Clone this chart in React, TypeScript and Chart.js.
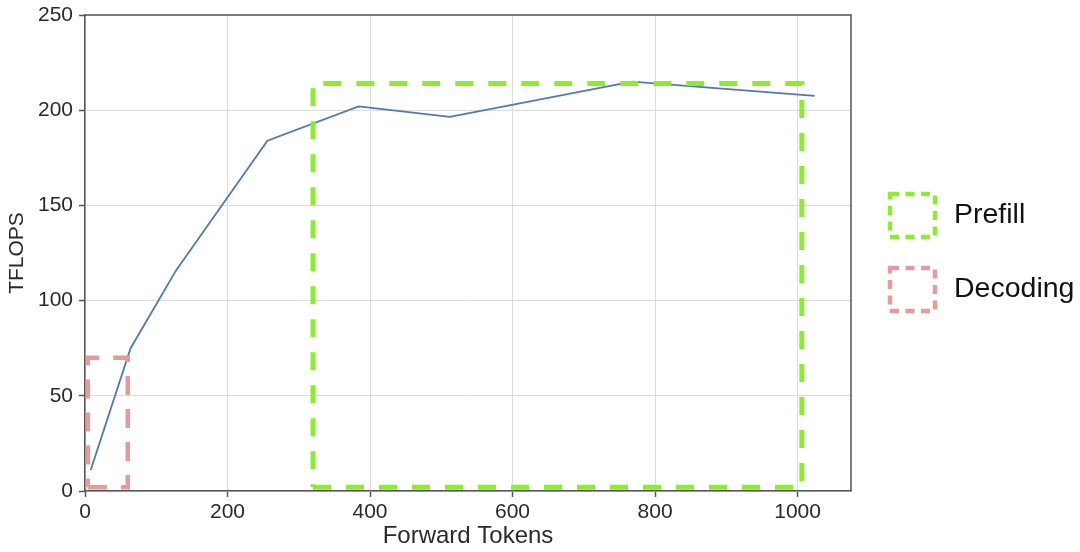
import React, { useEffect, useRef } from 'react';
import { Chart, registerables } from 'chart.js';

Chart.register(...registerables);

// ---- data ----
const forwardTokens = [8, 64, 128, 256, 384, 512, 768, 1024];
const tflops = [11, 75, 116, 184, 202, 196.5, 215, 207.5];

const prefillBoxX = [320, 1006, 1006, 320, 320];
const prefillBoxY = [2, 2, 214, 214, 2];
const decodingBoxX = [4, 60, 60, 4, 4];
const decodingBoxY = [2, 2, 70, 70, 2];

const xTicks = [0, 200, 400, 600, 800, 1000];
const yTicks = [0, 50, 100, 150, 200, 250];
const legendLabels = ['Prefill', 'Decoding'];

const FONT = "'Liberation Sans', Arial, Helvetica, sans-serif";
const GREEN = '#8aee2c';
const PINK = '#e89a9a';
const AXIS = '#555555';
const TEXT = '#2a2a2a';

const framePlugin = {
  id: 'frame',
  afterDraw(chart: any) {
    const { ctx, chartArea } = chart;
    ctx.save();
    ctx.strokeStyle = AXIS;
    ctx.lineWidth = 1.5;
    ctx.beginPath();
    ctx.moveTo(chartArea.left, chartArea.top);
    ctx.lineTo(chartArea.right, chartArea.top);
    ctx.lineTo(chartArea.right, chartArea.bottom);
    ctx.stroke();
    ctx.restore();
  },
};

const boxLegendPlugin = {
  id: 'boxLegend',
  afterDraw(chart: any) {
    const { ctx, chartArea } = chart;
    const items = chart.data.datasets.filter((d: any) => d.isBox);
    const bx = chartArea.right + 39;
    const bw = 45;
    const bh = 43;
    let by = chartArea.top + 179;
    ctx.save();
    items.forEach((d: any) => {
      ctx.strokeStyle = d.borderColor;
      ctx.lineWidth = 4.5;
      ctx.setLineDash([9, 6.5]);
      ctx.strokeRect(bx, by, bw, bh);
      ctx.setLineDash([]);
      ctx.fillStyle = '#111111';
      ctx.font = `28.5px ${FONT}`;
      ctx.textBaseline = 'middle';
      ctx.textAlign = 'left';
      ctx.fillText(d.label, bx + bw + 19, by + bh / 2);
      by += 74;
    });
    ctx.restore();
  },
};

export default function App() {
  const ref = useRef<HTMLCanvasElement | null>(null);

  useEffect(() => {
    if (!ref.current) return;
    const toPts = (xs: number[], ys: number[]) => xs.map((x, i) => ({ x, y: ys[i] }));
    const chart = new Chart(ref.current, {
      type: 'line',
      data: {
        datasets: [
          {
            label: legendLabels[0],
            isBox: true,
            data: toPts(prefillBoxX, prefillBoxY),
            borderColor: GREEN,
            borderWidth: 5,
            borderDash: [18, 15],
            borderCapStyle: 'butt',
            borderJoinStyle: 'miter',
            pointRadius: 0,
            fill: false,
            tension: 0,
          } as any,
          {
            label: legendLabels[1],
            isBox: true,
            data: toPts(decodingBoxX, decodingBoxY),
            borderColor: PINK,
            borderWidth: 4.5,
            borderDash: [19, 14],
            borderCapStyle: 'butt',
            borderJoinStyle: 'miter',
            pointRadius: 0,
            fill: false,
            tension: 0,
          } as any,
          {
            label: 'TFLOPS',
            data: toPts(forwardTokens, tflops),
            borderColor: '#5277b5',
            borderWidth: 1.8,
            pointRadius: 0,
            fill: false,
            tension: 0,
          },
        ],
      },
      options: {
        responsive: false,
        animation: false,
        devicePixelRatio: 1,
        layout: { padding: { top: 15, right: 229, left: 0, bottom: 0 } },
        plugins: {
          legend: { display: false },
          tooltip: { enabled: false },
        },
        scales: {
          x: {
            type: 'linear',
            min: 0,
            max: 1075,
            afterFit: (s: any) => {
              s.height = 61;
              s.paddingLeft = 0;
              s.paddingRight = 0;
            },
            afterBuildTicks: (s: any) => {
              s.ticks = xTicks.map((v) => ({ value: v }));
            },
            grid: { color: '#dcdcdc', lineWidth: 1, tickLength: 6, tickColor: AXIS, tickWidth: 1.5 },
            border: { display: true, color: AXIS, width: 1.5 },
            ticks: {
              color: TEXT,
              padding: 3,
              maxRotation: 0,
              font: { family: FONT, size: 21 },
              callback: (v: any) => String(v),
            },
            title: {
              display: true,
              text: 'Forward Tokens',
              color: TEXT,
              font: { family: FONT, size: 24 },
              padding: { top: 0, bottom: 1.5 },
            },
          },
          y: {
            type: 'linear',
            min: 0,
            max: 250,
            afterFit: (s: any) => {
              s.width = 85;
              s.paddingTop = 0;
              s.paddingBottom = 0;
            },
            afterBuildTicks: (s: any) => {
              s.ticks = yTicks.map((v) => ({ value: v }));
            },
            grid: { color: '#dcdcdc', lineWidth: 1, tickLength: 6, tickColor: AXIS, tickWidth: 1.5 },
            border: { display: true, color: AXIS, width: 1.5 },
            ticks: {
              color: TEXT,
              padding: 6,
              font: { family: FONT, size: 21 },
              callback: (v: any) => String(v),
            },
            title: {
              display: true,
              text: 'TFLOPS',
              color: TEXT,
              font: { family: FONT, size: 21 },
              padding: { top: 5, bottom: 0 },
            },
          },
        },
      } as any,
      plugins: [framePlugin, boxLegendPlugin],
    });
    return () => chart.destroy();
  }, []);

  return (
    <div style={{ position: 'fixed', left: 0, top: 0, width: 1080, height: 552, background: '#ffffff' }}>
      <canvas ref={ref} width={1080} height={552} />
    </div>
  );
}
